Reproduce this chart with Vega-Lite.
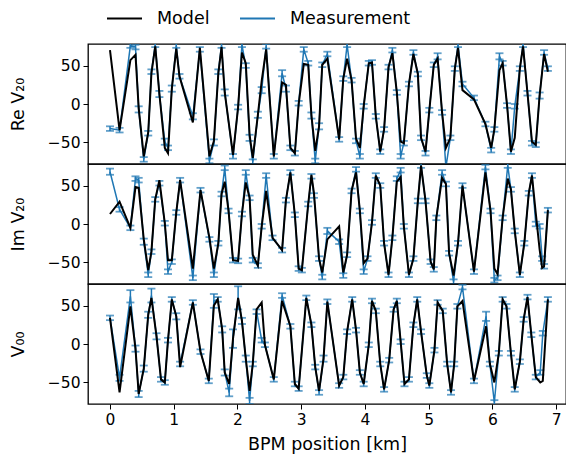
{
"$schema": "https://vega.github.io/schema/vega-lite/v6.json",
"padding": {"left": 8, "top": 0, "right": 0, "bottom": 0},
"bounds": "flush",
"background": "white",
"datasets": {
"Re": [
{"x":0.00,"m":70,"y":-32,"e":3},{"x":0.15,"m":-34,"y":-34,"e":3},{"x":0.32,"m":57,"y":76,"e":3},{"x":0.40,"m":64,"y":74,"e":3},{"x":0.45,"m":-5,"y":-7,"e":4},{"x":0.53,"m":-68,"y":-72,"e":3},{"x":0.60,"m":-37,"y":-38,"e":3},{"x":0.65,"m":40,"y":42,"e":3},{"x":0.71,"m":75,"y":77,"e":3},{"x":0.775,"m":13,"y":13,"e":4},{"x":0.86,"m":-57,"y":-49,"e":4},{"x":0.91,"m":-64,"y":-57,"e":3},{"x":0.97,"m":20,"y":20,"e":4},{"x":1.04,"m":72,"y":76,"e":3},{"x":1.09,"m":36,"y":36,"e":3},{"x":1.30,"m":-24,"y":-16,"e":4},{"x":1.41,"m":73,"y":71,"e":3},{"x":1.56,"m":-68,"y":-74,"e":3},{"x":1.63,"m":-48,"y":-50,"e":4},{"x":1.70,"m":40,"y":42,"e":3},{"x":1.75,"m":74,"y":76,"e":3},{"x":1.80,"m":15,"y":15,"e":4},{"x":1.93,"m":-66,"y":-68,"e":3},{"x":2.01,"m":-4,"y":-4,"e":3},{"x":2.07,"m":67,"y":77,"e":3},{"x":2.13,"m":53,"y":50,"e":3},{"x":2.19,"m":-40,"y":-44,"e":4},{"x":2.24,"m":-70,"y":-75,"e":3},{"x":2.32,"m":-14,"y":-14,"e":4},{"x":2.38,"m":30,"y":18,"e":4},{"x":2.45,"m":71,"y":75,"e":3},{"x":2.57,"m":-68,"y":-68,"e":3},{"x":2.70,"m":28,"y":40,"e":4},{"x":2.76,"m":25,"y":20,"e":4},{"x":2.83,"m":-57,"y":-57,"e":3},{"x":2.90,"m":-64,"y":-64,"e":3},{"x":2.96,"m":0,"y":1,"e":3},{"x":3.04,"m":52,"y":71,"e":3},{"x":3.11,"m":51,"y":53,"e":3},{"x":3.16,"m":-15,"y":-15,"e":4},{"x":3.22,"m":-61,"y":-74,"e":3},{"x":3.28,"m":-29,"y":-29,"e":4},{"x":3.33,"m":51,"y":51,"e":3},{"x":3.41,"m":59,"y":65,"e":3},{"x":3.595,"m":-46,"y":-46,"e":3},{"x":3.66,"m":33,"y":33,"e":3},{"x":3.72,"m":59,"y":77,"e":3},{"x":3.79,"m":31,"y":31,"e":3},{"x":3.86,"m":-45,"y":-48,"e":3},{"x":3.92,"m":-57,"y":-68,"e":3},{"x":3.98,"m":-3,"y":-3,"e":3},{"x":4.06,"m":53,"y":53,"e":3},{"x":4.11,"m":54,"y":54,"e":3},{"x":4.17,"m":-16,"y":-16,"e":3},{"x":4.24,"m":-62,"y":-62,"e":3},{"x":4.30,"m":-33,"y":-33,"e":3},{"x":4.37,"m":48,"y":48,"e":3},{"x":4.43,"m":66,"y":70,"e":3},{"x":4.50,"m":15,"y":15,"e":3},{"x":4.56,"m":-49,"y":-68,"e":3},{"x":4.61,"m":-51,"y":-51,"e":3},{"x":4.69,"m":26,"y":26,"e":3},{"x":4.76,"m":65,"y":67,"e":3},{"x":4.83,"m":39,"y":39,"e":3},{"x":4.88,"m":-44,"y":-44,"e":3},{"x":4.95,"m":-62,"y":-64,"e":3},{"x":5.01,"m":-8,"y":-8,"e":3},{"x":5.08,"m":51,"y":51,"e":3},{"x":5.14,"m":59,"y":62,"e":4},{"x":5.21,"m":-11,"y":-11,"e":3},{"x":5.27,"m":-57,"y":-82,"e":3},{"x":5.34,"m":-44,"y":-44,"e":3},{"x":5.41,"m":46,"y":46,"e":3},{"x":5.46,"m":73,"y":77,"e":3},{"x":5.53,"m":18,"y":26,"e":3},{"x":5.71,"m":6,"y":8,"e":3},{"x":5.89,"m":-26,"y":-26,"e":3},{"x":5.98,"m":-57,"y":-60,"e":3},{"x":6.03,"m":-33,"y":-33,"e":3},{"x":6.11,"m":44,"y":62,"e":4},{"x":6.16,"m":53,"y":53,"e":3},{"x":6.23,"m":-2,"y":-2,"e":3},{"x":6.29,"m":-62,"y":-62,"e":3},{"x":6.35,"m":-44,"y":-3,"e":3},{"x":6.43,"m":46,"y":46,"e":3},{"x":6.48,"m":75,"y":77,"e":3},{"x":6.55,"m":14,"y":14,"e":3},{"x":6.62,"m":-49,"y":-51,"e":3},{"x":6.68,"m":-53,"y":-53,"e":3},{"x":6.74,"m":11,"y":11,"e":4},{"x":6.81,"m":65,"y":67,"e":3},{"x":6.87,"m":42,"y":46,"e":3}
],
"Im": [
{"x":0.00,"m":13,"y":68,"e":4},{"x":0.15,"m":29,"y":19,"e":3},{"x":0.32,"m":-5,"y":-5,"e":3},{"x":0.40,"m":48,"y":59,"e":3},{"x":0.45,"m":47,"y":57,"e":3},{"x":0.53,"m":-20,"y":-23,"e":4},{"x":0.60,"m":-60,"y":-66,"e":3},{"x":0.65,"m":-36,"y":-36,"e":3},{"x":0.71,"m":32,"y":32,"e":3},{"x":0.775,"m":57,"y":53,"e":3},{"x":0.86,"m":1,"y":1,"e":3},{"x":0.91,"m":-47,"y":-62,"e":3},{"x":0.97,"m":-47,"y":-49,"e":3},{"x":1.04,"m":15,"y":15,"e":3},{"x":1.10,"m":57,"y":57,"e":3},{"x":1.30,"m":-58,"y":-70,"e":3},{"x":1.42,"m":44,"y":44,"e":3},{"x":1.56,"m":-18,"y":-20,"e":3},{"x":1.63,"m":-58,"y":-66,"e":3},{"x":1.70,"m":-25,"y":-25,"e":3},{"x":1.75,"m":39,"y":39,"e":3},{"x":1.80,"m":55,"y":73,"e":3},{"x":1.86,"m":17,"y":17,"e":3},{"x":1.93,"m":-47,"y":-47,"e":3},{"x":2.01,"m":-48,"y":-48,"e":3},{"x":2.07,"m":13,"y":13,"e":3},{"x":2.13,"m":54,"y":67,"e":3},{"x":2.19,"m":34,"y":34,"e":3},{"x":2.24,"m":-40,"y":-47,"e":3},{"x":2.32,"m":-54,"y":-54,"e":3},{"x":2.38,"m":-3,"y":-3,"e":3},{"x":2.45,"m":43,"y":63,"e":3},{"x":2.55,"m":-18,"y":-18,"e":3},{"x":2.70,"m":-34,"y":-34,"e":3},{"x":2.76,"m":31,"y":31,"e":3},{"x":2.83,"m":67,"y":67,"e":3},{"x":2.90,"m":12,"y":12,"e":3},{"x":2.96,"m":-58,"y":-58,"e":3},{"x":3.01,"m":-60,"y":-60,"e":3},{"x":3.11,"m":26,"y":26,"e":3},{"x":3.16,"m":64,"y":62,"e":3},{"x":3.20,"m":40,"y":37,"e":3},{"x":3.28,"m":-45,"y":-45,"e":3},{"x":3.33,"m":-63,"y":-69,"e":3},{"x":3.41,"m":-20,"y":-9,"e":4},{"x":3.595,"m":-3,"y":-23,"e":3},{"x":3.66,"m":-63,"y":-67,"e":3},{"x":3.72,"m":-40,"y":-40,"e":3},{"x":3.79,"m":43,"y":43,"e":3},{"x":3.86,"m":67,"y":71,"e":3},{"x":3.92,"m":17,"y":17,"e":3},{"x":3.98,"m":-51,"y":-62,"e":3},{"x":4.04,"m":-45,"y":-45,"e":3},{"x":4.11,"m":2,"y":2,"e":3},{"x":4.17,"m":63,"y":63,"e":3},{"x":4.24,"m":50,"y":50,"e":3},{"x":4.30,"m":-25,"y":-25,"e":3},{"x":4.37,"m":-66,"y":-66,"e":3},{"x":4.43,"m":-18,"y":-18,"e":3},{"x":4.50,"m":55,"y":59,"e":3},{"x":4.56,"m":61,"y":70,"e":3},{"x":4.61,"m":-3,"y":-3,"e":3},{"x":4.69,"m":-66,"y":-66,"e":3},{"x":4.76,"m":-45,"y":-45,"e":3},{"x":4.83,"m":30,"y":30,"e":3},{"x":4.88,"m":76,"y":76,"e":3},{"x":4.95,"m":30,"y":30,"e":3},{"x":5.03,"m":-49,"y":-49,"e":3},{"x":5.08,"m":-59,"y":-59,"e":3},{"x":5.12,"m":8,"y":8,"e":3},{"x":5.21,"m":60,"y":67,"e":3},{"x":5.27,"m":52,"y":52,"e":3},{"x":5.32,"m":-38,"y":-38,"e":3},{"x":5.39,"m":-67,"y":-75,"e":3},{"x":5.46,"m":-25,"y":-25,"e":3},{"x":5.53,"m":50,"y":50,"e":3},{"x":5.71,"m":-62,"y":-62,"e":3},{"x":5.89,"m":67,"y":74,"e":3},{"x":5.97,"m":17,"y":17,"e":3},{"x":6.03,"m":-58,"y":-73,"e":3},{"x":6.08,"m":-65,"y":-70,"e":3},{"x":6.16,"m":8,"y":8,"e":3},{"x":6.24,"m":59,"y":76,"e":3},{"x":6.29,"m":45,"y":45,"e":3},{"x":6.35,"m":-9,"y":-9,"e":3},{"x":6.43,"m":-66,"y":-66,"e":3},{"x":6.50,"m":-25,"y":-25,"e":3},{"x":6.57,"m":40,"y":40,"e":3},{"x":6.62,"m":63,"y":63,"e":3},{"x":6.68,"m":14,"y":0,"e":3},{"x":6.74,"m":-33,"y":-3,"e":3},{"x":6.78,"m":-57,"y":-45,"e":3},{"x":6.81,"m":-55,"y":-55,"e":3},{"x":6.87,"m":18,"y":18,"e":3}
],
"V00": [
{"x":0.00,"m":34,"y":34,"e":3},{"x":0.15,"m":-63,"y":-44,"e":4},{"x":0.32,"m":49,"y":62,"e":8},{"x":0.40,"m":-6,"y":-6,"e":4},{"x":0.45,"m":-65,"y":-65,"e":4},{"x":0.53,"m":-32,"y":-32,"e":4},{"x":0.60,"m":38,"y":38,"e":4},{"x":0.65,"m":60,"y":63,"e":9},{"x":0.73,"m":10,"y":10,"e":4},{"x":0.80,"m":-46,"y":-46,"e":3},{"x":0.86,"m":-50,"y":-50,"e":3},{"x":0.91,"m":5,"y":5,"e":3},{"x":0.97,"m":58,"y":58,"e":3},{"x":1.04,"m":36,"y":36,"e":4},{"x":1.10,"m":-30,"y":-26,"e":3},{"x":1.30,"m":54,"y":54,"e":3},{"x":1.42,"m":-10,"y":-10,"e":3},{"x":1.55,"m":-48,"y":-48,"e":3},{"x":1.63,"m":50,"y":56,"e":9},{"x":1.69,"m":58,"y":58,"e":3},{"x":1.76,"m":19,"y":19,"e":4},{"x":1.80,"m":-37,"y":-37,"e":4},{"x":1.87,"m":-52,"y":-63,"e":5},{"x":1.93,"m":7,"y":7,"e":12},{"x":2.01,"m":60,"y":60,"e":15},{"x":2.07,"m":30,"y":30,"e":4},{"x":2.13,"m":-19,"y":-19,"e":4},{"x":2.19,"m":-61,"y":-74,"e":4},{"x":2.24,"m":-26,"y":-26,"e":3},{"x":2.30,"m":45,"y":42,"e":3},{"x":2.38,"m":54,"y":5,"e":3},{"x":2.43,"m":-1,"y":-1,"e":3},{"x":2.57,"m":-46,"y":-46,"e":3},{"x":2.70,"m":56,"y":63,"e":3},{"x":2.83,"m":23,"y":23,"e":3},{"x":2.90,"m":-52,"y":-52,"e":3},{"x":2.96,"m":-58,"y":-58,"e":3},{"x":3.08,"m":60,"y":60,"e":3},{"x":3.16,"m":25,"y":25,"e":3},{"x":3.22,"m":-30,"y":-30,"e":3},{"x":3.28,"m":-61,"y":-63,"e":3},{"x":3.35,"m":-19,"y":-19,"e":4},{"x":3.41,"m":55,"y":55,"e":3},{"x":3.595,"m":-54,"y":-54,"e":3},{"x":3.66,"m":-43,"y":-43,"e":3},{"x":3.72,"m":16,"y":16,"e":3},{"x":3.80,"m":58,"y":58,"e":3},{"x":3.86,"m":18,"y":18,"e":3},{"x":3.92,"m":-37,"y":-37,"e":3},{"x":3.98,"m":-52,"y":-52,"e":3},{"x":4.06,"m":-1,"y":-1,"e":3},{"x":4.11,"m":56,"y":56,"e":3},{"x":4.17,"m":43,"y":43,"e":3},{"x":4.24,"m":-26,"y":-26,"e":3},{"x":4.30,"m":-59,"y":-59,"e":3},{"x":4.38,"m":-21,"y":-21,"e":3},{"x":4.45,"m":45,"y":45,"e":3},{"x":4.50,"m":56,"y":56,"e":3},{"x":4.56,"m":3,"y":3,"e":3},{"x":4.62,"m":-52,"y":-52,"e":3},{"x":4.69,"m":-46,"y":-46,"e":3},{"x":4.76,"m":25,"y":25,"e":3},{"x":4.82,"m":58,"y":58,"e":3},{"x":4.88,"m":16,"y":16,"e":3},{"x":4.97,"m":-41,"y":-41,"e":3},{"x":5.01,"m":-54,"y":-54,"e":3},{"x":5.09,"m":-8,"y":-8,"e":3},{"x":5.14,"m":54,"y":54,"e":3},{"x":5.22,"m":43,"y":43,"e":3},{"x":5.29,"m":-26,"y":-26,"e":3},{"x":5.35,"m":-63,"y":-63,"e":3},{"x":5.40,"m":-26,"y":-26,"e":3},{"x":5.45,"m":49,"y":49,"e":3},{"x":5.53,"m":56,"y":74,"e":3},{"x":5.71,"m":-48,"y":-48,"e":3},{"x":5.90,"m":23,"y":36,"e":6},{"x":5.96,"m":-26,"y":-26,"e":3},{"x":6.03,"m":-50,"y":-76,"e":3},{"x":6.10,"m":-12,"y":-12,"e":3},{"x":6.16,"m":58,"y":58,"e":3},{"x":6.22,"m":49,"y":49,"e":3},{"x":6.29,"m":-12,"y":-12,"e":3},{"x":6.35,"m":-59,"y":-59,"e":3},{"x":6.43,"m":-23,"y":-23,"e":3},{"x":6.49,"m":32,"y":32,"e":3},{"x":6.55,"m":61,"y":61,"e":3},{"x":6.61,"m":12,"y":12,"e":3},{"x":6.68,"m":-43,"y":-43,"e":3},{"x":6.75,"m":-50,"y":-37,"e":3},{"x":6.79,"m":-48,"y":14,"e":3},{"x":6.87,"m":58,"y":58,"e":3}
]
},
"spacing": 0,
"vconcat": [
{
"width": 478, "height": 120,
"data": {"name": "Re"},
"encoding": {"x": {"field": "x", "type": "quantitative", "scale": {"domain": [-0.345, 7.154], "nice": false, "zero": false}, "axis": null}},
"layer": [
{"mark": {"type": "line", "strokeWidth": 1.5, "clip": true}, "encoding": {"y": {"field": "y", "type": "quantitative", "scale": {"domain": [-78, 78], "nice": false}, "axis": {"title": "Re V₂₀", "values": [-50, 0, 50]}}, "color": {"datum": "Measurement", "type": "nominal", "scale": {"domain": ["Model", "Measurement"], "range": ["black", "#1f77b4"]}}}},
{"mark": {"type": "errorbar", "ticks": {"size": 8, "thickness": 1.8}, "color": "#1f77b4", "thickness": 1.5, "clip": true}, "encoding": {"y": {"field": "y", "type": "quantitative", "title": "Re V₂₀"}, "yError": {"field": "e"}}},
{"mark": {"type": "line", "strokeWidth": 2, "clip": true}, "encoding": {"y": {"field": "m", "type": "quantitative", "title": "Re V₂₀"}, "color": {"datum": "Model", "type": "nominal"}}}
]
},
{
"width": 478, "height": 120,
"data": {"name": "Im"},
"encoding": {"x": {"field": "x", "type": "quantitative", "scale": {"domain": [-0.345, 7.154], "nice": false, "zero": false}, "axis": null}},
"layer": [
{"mark": {"type": "line", "strokeWidth": 1.5, "clip": true}, "encoding": {"y": {"field": "y", "type": "quantitative", "scale": {"domain": [-78, 78], "nice": false}, "axis": {"title": "Im V₂₀", "values": [-50, 0, 50]}}, "color": {"datum": "Measurement", "type": "nominal"}}},
{"mark": {"type": "errorbar", "ticks": {"size": 8, "thickness": 1.8}, "color": "#1f77b4", "thickness": 1.5, "clip": true}, "encoding": {"y": {"field": "y", "type": "quantitative", "title": "Im V₂₀"}, "yError": {"field": "e"}}},
{"mark": {"type": "line", "strokeWidth": 2, "clip": true}, "encoding": {"y": {"field": "m", "type": "quantitative", "title": "Im V₂₀"}, "color": {"datum": "Model", "type": "nominal"}}}
]
},
{
"width": 478, "height": 120,
"data": {"name": "V00"},
"encoding": {"x": {"field": "x", "type": "quantitative", "scale": {"domain": [-0.345, 7.154], "nice": false, "zero": false}, "axis": {"title": "BPM position [km]", "values": [0, 1, 2, 3, 4, 5, 6, 7]}}},
"layer": [
{"mark": {"type": "line", "strokeWidth": 1.5, "clip": true}, "encoding": {"y": {"field": "y", "type": "quantitative", "scale": {"domain": [-78, 78], "nice": false}, "axis": {"title": "V₀₀", "values": [-50, 0, 50]}}, "color": {"datum": "Measurement", "type": "nominal"}}},
{"mark": {"type": "errorbar", "ticks": {"size": 8, "thickness": 1.8}, "color": "#1f77b4", "thickness": 1.5, "clip": true}, "encoding": {"y": {"field": "y", "type": "quantitative", "title": "V₀₀"}, "yError": {"field": "e"}}},
{"mark": {"type": "line", "strokeWidth": 2, "clip": true}, "encoding": {"y": {"field": "m", "type": "quantitative", "title": "V₀₀"}, "color": {"datum": "Model", "type": "nominal"}}}
]
}
],
"resolve": {"scale": {"color": "shared"}},
"config": {
"font": "DejaVu Sans",
"view": {"stroke": "black", "strokeWidth": 1.3},
"axis": {"domain": false, "grid": false, "tickColor": "black", "tickSize": 5, "tickWidth": 1, "labelColor": "black", "labelFontSize": 15.5, "labelPadding": 3, "titleFontSize": 17.5, "titleFontWeight": "normal", "titleColor": "black", "labelExpr": "replace(datum.label, '-', '−')"},
"axisY": {"titlePadding": 20},
"axisX": {"titlePadding": 8},
"legend": {"orient": "none", "legendX": 18, "legendY": -44, "direction": "horizontal", "title": null, "symbolType": "stroke", "symbolStrokeWidth": 2, "symbolSize": 1225, "labelFontSize": 17.5, "labelColor": "black", "columnPadding": 26, "labelOffset": 14}
}
}
